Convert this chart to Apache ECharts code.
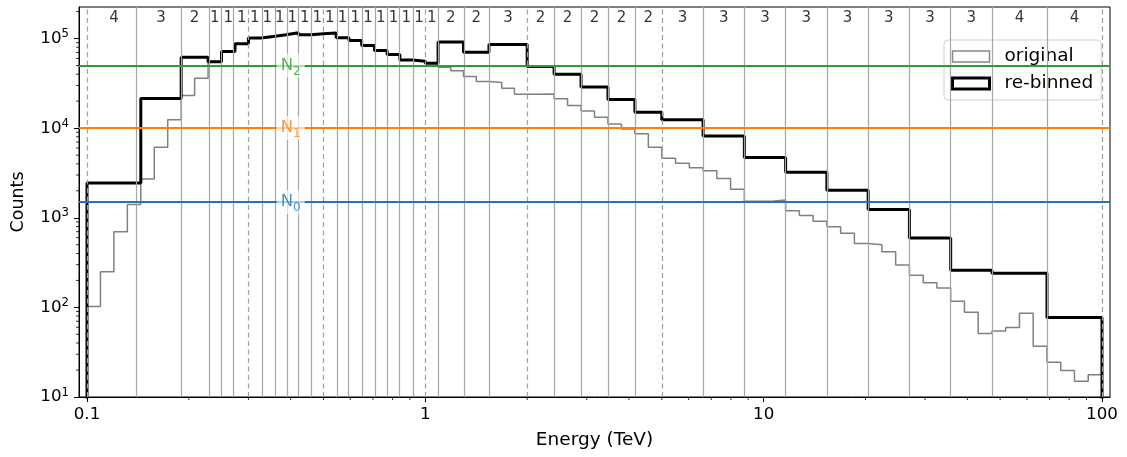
<!DOCTYPE html>
<html><head><meta charset="utf-8">
<script src="https://cdn.jsdelivr.net/npm/echarts@6/dist/echarts.min.js"></script>
<style>html,body{margin:0;padding:0;background:#fff}#c{width:1127px;height:457px}</style>
</head><body><div id="c"></div>
<script>
// ---------------- data ----------------
// original binning: boundaries of log-uniform segments and number of bins per segment
const segmentBounds = [0.1, 0.3, 0.5, 1, 2, 5, 100];
const binsPerSegment = [12, 6, 8, 8, 10, 32];
// counts of the original (fine) bins
const originalCounts = [
  102, 250, 698, 1410,
  2700, 6140, 12400,
  23200, 36100,
  55200, 71600, 87300, 101400, 105700, 110400, 116000, 110000, 113000, 115000,
  102000, 95300, 83500, 73500, 66200, 57700, 55800, 52900,
  47800, 43700,
  37800, 33200,
  32400, 27900, 23900,
  23900, 24000,
  21300, 17900,
  15500, 13200,
  11100, 9800,
  8670, 6140,
  4610, 4050, 3620,
  3340, 2750, 2080,
  1530, 1530, 1580,
  1200, 1060, 914,
  796, 670, 516,
  499, 419, 297,
  229, 188, 165,
  117, 88, 51,
  54.5, 59.8, 86, 36.9,
  24.5, 19.8, 15, 17.7
];
// number of original bins merged into each re-binned bin (also the labels on top)
const groupSizes = [4, 3, 2,
  1, 1, 1, 1, 1, 1, 1, 1, 1, 1, 1, 1, 1, 1, 1, 1, 1, 1,
  2, 2, 3,
  2, 2, 2, 2, 2,
  3, 3, 3, 3, 3, 3, 3, 3, 4, 4];
// counts of the re-binned bins
const rebinnedCounts = [2450, 21500, 61800,
  55200, 71600, 87300, 101400, 105700, 110400, 116000, 110000, 113000, 115000,
  102000, 95300, 83500, 73500, 66200, 57700, 55800, 52900,
  91400, 70500, 85700,
  48700, 39900, 28800, 20900, 15100,
  12400, 8200, 4700, 3230, 2030, 1240, 593, 259, 241, 77];
// thresholds
const thresholdIndex = ['0', '1', '2'];
const thresholdValues = [1500, 10000, 50000];
const thresholdColors = ['#1f77b4', '#ff7f0e', '#2ca02c'];
const thresholdLabelEnergy = 0.4;
// dashed reference energies
const dashedEnergies = [0.1, 0.3, 0.5, 1, 2, 5, 100];
// ticks
const xMajorTicks = [0.1, 1, 10, 100];
const yMajorTicks = [10, 100, 1000, 10000, 100000];
const minorDigits = [2, 3, 4, 5, 6, 7, 8, 9];
const xMinorDecades = [0.1, 1, 10];
const yMinorDecades = [10, 100, 1000, 10000, 100000];

// ---------------- derived ----------------
const edges = [segmentBounds[0]];
binsPerSegment.forEach((n, s) => {
  const a = segmentBounds[s], b = segmentBounds[s + 1];
  for (let k = 1; k <= n; k++) edges.push(a * Math.pow(b / a, k / n));
});
const groupEdges = [edges[0]];
let idx = 0;
groupSizes.forEach(g => { idx += g; groupEdges.push(edges[idx]); });

const XMIN = 0.0947, XMAX = 105.6, YMIN = 10, YMAX = 225000, FLOOR = 1;

function stepData(e, v) {
  const d = [[e[0], FLOOR]];
  v.forEach((c, i) => d.push([e[i], c]));
  d.push([e[e.length - 1], v[v.length - 1]]);
  d.push([e[e.length - 1], FLOOR]);
  return d;
}
const xMinor = [], yMinor = [];
xMinorDecades.forEach(d => minorDigits.forEach(m => xMinor.push(+(d * m).toPrecision(3))));
yMinorDecades.forEach(d => minorDigits.forEach(m => { const v = d * m; if (v < YMAX) yMinor.push(v); }));

const isDashed = v => dashedEnergies.some(d => Math.abs(Math.log10(v / d)) < 1e-6);
const vLines = [];
groupEdges.forEach(v => { if (!isDashed(v)) vLines.push({ xAxis: v, lineStyle: { color: '#a6a6a6', width: 1.2, type: 'solid' } }); });
dashedEnergies.forEach(v => vLines.push({ xAxis: v, lineStyle: { color: '#a0a0a0', width: 1.2, type: [5, 3.5] } }));

const topLabelData = groupSizes.map((g, i) => [Math.sqrt(groupEdges[i] * groupEdges[i + 1]), 168000, g]);

const FONT = 'DejaVu Sans';
const chart = echarts.init(document.getElementById('c'));
chart.setOption({
  animation: false,
  textStyle: { fontFamily: FONT },
  grid: { left: 79, right: 17, top: 7, bottom: 60, show: true, borderColor: '#000', borderWidth: 1, backgroundColor: 'transparent' },
  legend: {
    orient: 'vertical', left: 944, top: 40, padding: [7, 8, 7, 7], itemGap: 8,
    itemWidth: 37, itemHeight: 11,
    backgroundColor: 'rgba(255,255,255,0.8)', borderColor: '#d0d0d0', borderWidth: 1, borderRadius: 4,
    textStyle: { fontSize: 18.5, color: '#000', fontFamily: FONT, padding: [0, 0, 0, 10] },
    data: [
      { name: 'original', icon: 'rect', itemStyle: { color: '#fff', borderColor: '#888', borderWidth: 1.5 } },
      { name: 're-binned', icon: 'rect', itemStyle: { color: '#fff', borderColor: '#000', borderWidth: 3 } }
    ]
  },
  xAxis: [{
    type: 'log', min: XMIN, max: XMAX, name: 'Energy (TeV)', nameLocation: 'middle', nameGap: 34,
    nameTextStyle: { fontSize: 18.5, color: '#000', fontFamily: FONT },
    axisLine: { show: true, lineStyle: { color: '#000', width: 1 } },
    axisTick: { show: true, length: 5, lineStyle: { color: '#000', width: 1 }, customValues: xMajorTicks },
    axisLabel: { show: true, margin: 9, fontSize: 16.7, color: '#000', fontFamily: FONT, customValues: xMajorTicks,
      formatter: v => (v < 1 ? String(+v.toPrecision(2)) : String(Math.round(v))) },
    splitLine: { show: false }, minorTick: { show: false }
  }],
  yAxis: [{
    type: 'log', min: YMIN, max: YMAX, name: 'Counts', nameLocation: 'middle', nameGap: 52,
    nameTextStyle: { fontSize: 17.5, color: '#000', fontFamily: FONT },
    axisLine: { show: true, lineStyle: { color: '#000', width: 1 } },
    axisTick: { show: true, length: 5, lineStyle: { color: '#000', width: 1 }, customValues: yMajorTicks },
    axisLabel: { show: true, margin: 10, fontSize: 16.7, color: '#000', fontFamily: FONT, customValues: yMajorTicks,
      formatter: v => '{b|10}{s|' + Math.round(Math.log10(v)) + '}',
      rich: { b: { fontSize: 16.7, lineHeight: 21, fontFamily: FONT, color: '#000' },
              s: { fontSize: 11.7, lineHeight: 11, verticalAlign: 'top', fontFamily: FONT, color: '#000' } } },
    splitLine: { show: false }, minorTick: { show: false }
  }],
  series: [
    { type: 'line', name: 'vlines', data: [], z: 1, silent: true,
      markLine: { silent: true, symbol: ['none', 'none'], label: { show: false }, animation: false, data: vLines } },
    { type: 'line', name: 'thresholds', data: [], z: 2, silent: true,
      markLine: { silent: true, symbol: ['none', 'none'], label: { show: false }, animation: false,
        data: thresholdValues.map((v, i) => ({ yAxis: v, lineStyle: { color: thresholdColors[i], width: 2, type: 'solid' } })) } },
    { type: 'line', name: 'original', step: 'end', showSymbol: false, z: 3, silent: true,
      data: stepData(edges, originalCounts), lineStyle: { color: '#808080', width: 1.5 }, itemStyle: { color: '#808080' } },
    { type: 'line', name: 're-binned', step: 'end', showSymbol: false, z: 4, silent: true,
      data: stepData(groupEdges, rebinnedCounts), lineStyle: { color: '#000', width: 3 }, itemStyle: { color: '#000' } },
    { type: 'scatter', name: 'groupLabels', symbolSize: 0, z: 6, silent: true, data: topLabelData,
      label: { show: true, position: 'inside', fontSize: 15, color: '#000', fontFamily: FONT, formatter: p => String(p.value[2]) } },
    { type: 'scatter', name: 'thresholdLabels', symbolSize: 0, z: 7, silent: true,
      data: thresholdValues.map((v, i) => ({ value: [thresholdLabelEnergy, v, thresholdIndex[i]],
        label: { rich: { n: { fontSize: 16.5, lineHeight: 24, color: thresholdColors[i], fontFamily: FONT },
                         s: { fontSize: 12, lineHeight: 13, verticalAlign: 'bottom', color: thresholdColors[i], fontFamily: FONT } } } })),
      label: { show: true, position: 'inside', backgroundColor: 'rgba(255,255,255,0.8)', padding: [0, 4, 0, 4],
        formatter: p => '{n|N}{s|' + p.value[2] + '}' } },
    { type: 'custom', name: 'xMinorTicks', z: 8, silent: true, clip: false,
      data: xMinor.map(v => [v, YMIN]),
      renderItem: (params, api) => {
        const p = api.coord([api.value(0), api.value(1)]);
        return { type: 'line', shape: { x1: p[0], y1: p[1], x2: p[0], y2: p[1] + 3 }, style: { stroke: '#000', lineWidth: 0.8 } };
      } },
    { type: 'custom', name: 'yMinorTicks', z: 8, silent: true, clip: false,
      data: yMinor.map(v => [XMIN, v]),
      renderItem: (params, api) => {
        const p = api.coord([api.value(0), api.value(1)]);
        return { type: 'line', shape: { x1: p[0] - 3, y1: p[1], x2: p[0], y2: p[1] }, style: { stroke: '#000', lineWidth: 0.8 } };
      } }
  ]
});
</script></body></html>
